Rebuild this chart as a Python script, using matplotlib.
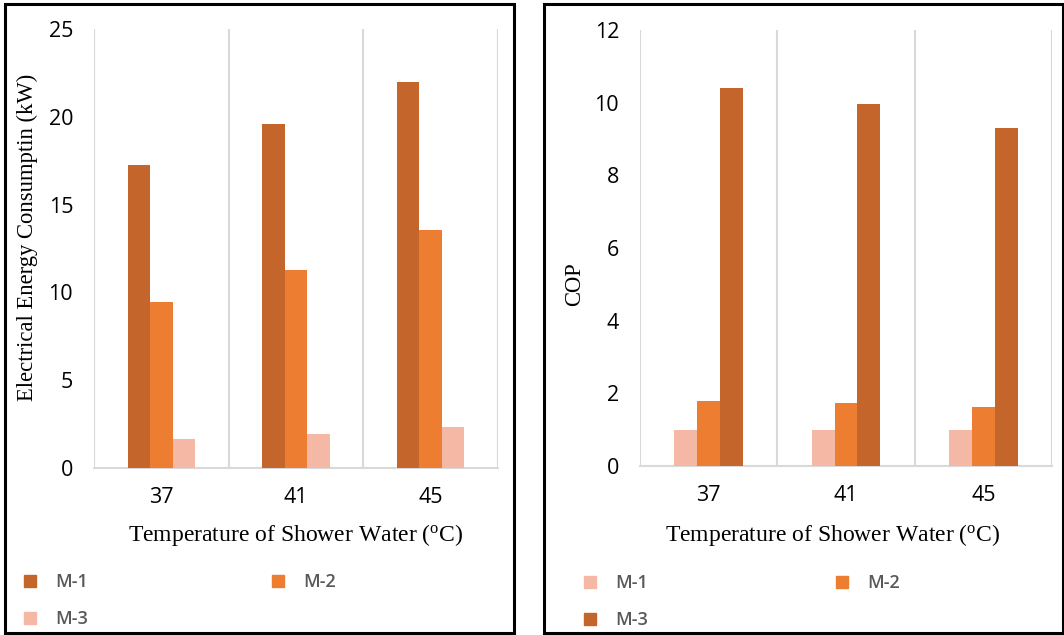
import matplotlib
matplotlib.use("Agg")
import matplotlib.pyplot as plt
import numpy as np
from matplotlib.patches import Rectangle
from matplotlib.lines import Line2D

plt.rcParams["mathtext.fontset"] = "custom"
plt.rcParams["mathtext.rm"] = "Liberation Serif"
plt.rcParams["mathtext.it"] = "Liberation Serif:italic"

categories = ["37", "41", "45"]
energy_m1 = [17.25, 19.6, 22.0]
energy_m2 = [9.45, 11.3, 13.55]
energy_m3 = [1.65, 1.95, 2.35]
cop_m1 = [1.0, 1.0, 1.0]
cop_m2 = [1.8, 1.73, 1.62]
cop_m3 = [10.4, 9.95, 9.3]

DARK = "#C4662B"
MID = "#ED7D31"
LIGHT = "#F4B8A4"
GRID = "#D9D9D9"

W, H = 1064, 635
fig = plt.figure(figsize=(W / 100, H / 100), dpi=100)

def fx(px):
    return px / W

def fy(py):
    return 1 - py / H

# panel borders
for (x0, x1) in [(5, 514), (544, 1063)]:
    fig.patches.append(Rectangle((fx(x0), fy(633)), fx(x1 - x0), (633 - 4) / H,
                                 transform=fig.transFigure, fill=False,
                                 edgecolor="black", linewidth=2.2, zorder=10))

TICK_SIZE = 15.5
xlabel_font = dict(family="Liberation Serif", size=17)
ylabel_font = dict(family="Liberation Serif", size=16.3)


def panel(ax, series, colors, names, ymax, ystep, ylabel, ylab_xy, legend_pos,
          colspace):
    x = np.arange(len(categories))
    bw = 1 / 6
    n = len(series)
    for i, (vals, c, nm) in enumerate(zip(series, colors, names)):
        ax.bar(x + (i - (n - 1) / 2) * bw, vals, width=bw, color=c, label=nm,
               zorder=3, linewidth=0)
    ax.set_xlim(-0.5, 2.5)
    ax.set_ylim(0, ymax)
    ax.set_yticks(np.arange(0, ymax + 0.01, ystep))
    ax.set_xticks(x)
    ax.set_xticklabels(categories)
    for t in ax.get_yticklabels() + ax.get_xticklabels():
        t.set_fontfamily("Open Sans")
        t.set_fontsize(TICK_SIZE)
    ax.set_xticks([-0.5, 0.5, 1.5, 2.5], minor=True)
    ax.tick_params(which="both", length=0)
    ax.tick_params(axis="y", pad=15)
    ax.tick_params(axis="x", pad=14)
    ax.grid(which="minor", axis="x", color=GRID, linewidth=1.5, zorder=0)
    for s in ["top", "right", "left"]:
        ax.spines[s].set_visible(False)
    ax.spines["bottom"].set_color(GRID)
    ax.spines["bottom"].set_linewidth(1.5)
    ax.set_ylabel(ylabel, **ylabel_font)
    ax.yaxis.set_label_coords(*ylab_xy)
    handles = [Line2D([], [], marker="s", linestyle="none", markersize=9,
                      color=c) for c in colors]
    order = [0, 2, 1]
    leg = fig.legend([handles[i] for i in order], [names[i] for i in order],
                     ncol=2, loc="upper left", bbox_to_anchor=legend_pos,
                     frameon=False, handlelength=1.0, handletextpad=0.9,
                     columnspacing=colspace, labelspacing=1.05, borderpad=0.4,
                     borderaxespad=0.0,
                     prop=dict(family="Open Sans", size=13, weight="semibold"))
    for t in leg.get_texts():
        t.set_color("#595959")


ax1 = fig.add_axes([fx(94), fy(468), fx(404), 439 / H])
panel(ax1, [energy_m1, energy_m2, energy_m3], [DARK, MID, LIGHT],
      ["M-1", "M-2", "M-3"], 25, 5, "Electrical Energy Consumptin (kW)",
      (-0.139, 0.526), (fx(14), fy(566)), 10.0)

ax2 = fig.add_axes([fx(640), fy(466), fx(412), 436 / H])
panel(ax2, [cop_m1, cop_m2, cop_m3], [LIGHT, MID, DARK],
      ["M-1", "M-2", "M-3"], 12, 2, "COP", (-0.133, 0.417),
      (fx(574), fy(567)), 10.2)

# x-axis titles with superscript o
for ax, cx in [(ax1, 296), (ax2, 833)]:
    fig.text(fx(cx), fy(535), r"Temperature of Shower Water ($^{\mathrm{o}}$C)",
             ha="center", va="center", **xlabel_font)

fig.savefig("out.png", dpi=100)
